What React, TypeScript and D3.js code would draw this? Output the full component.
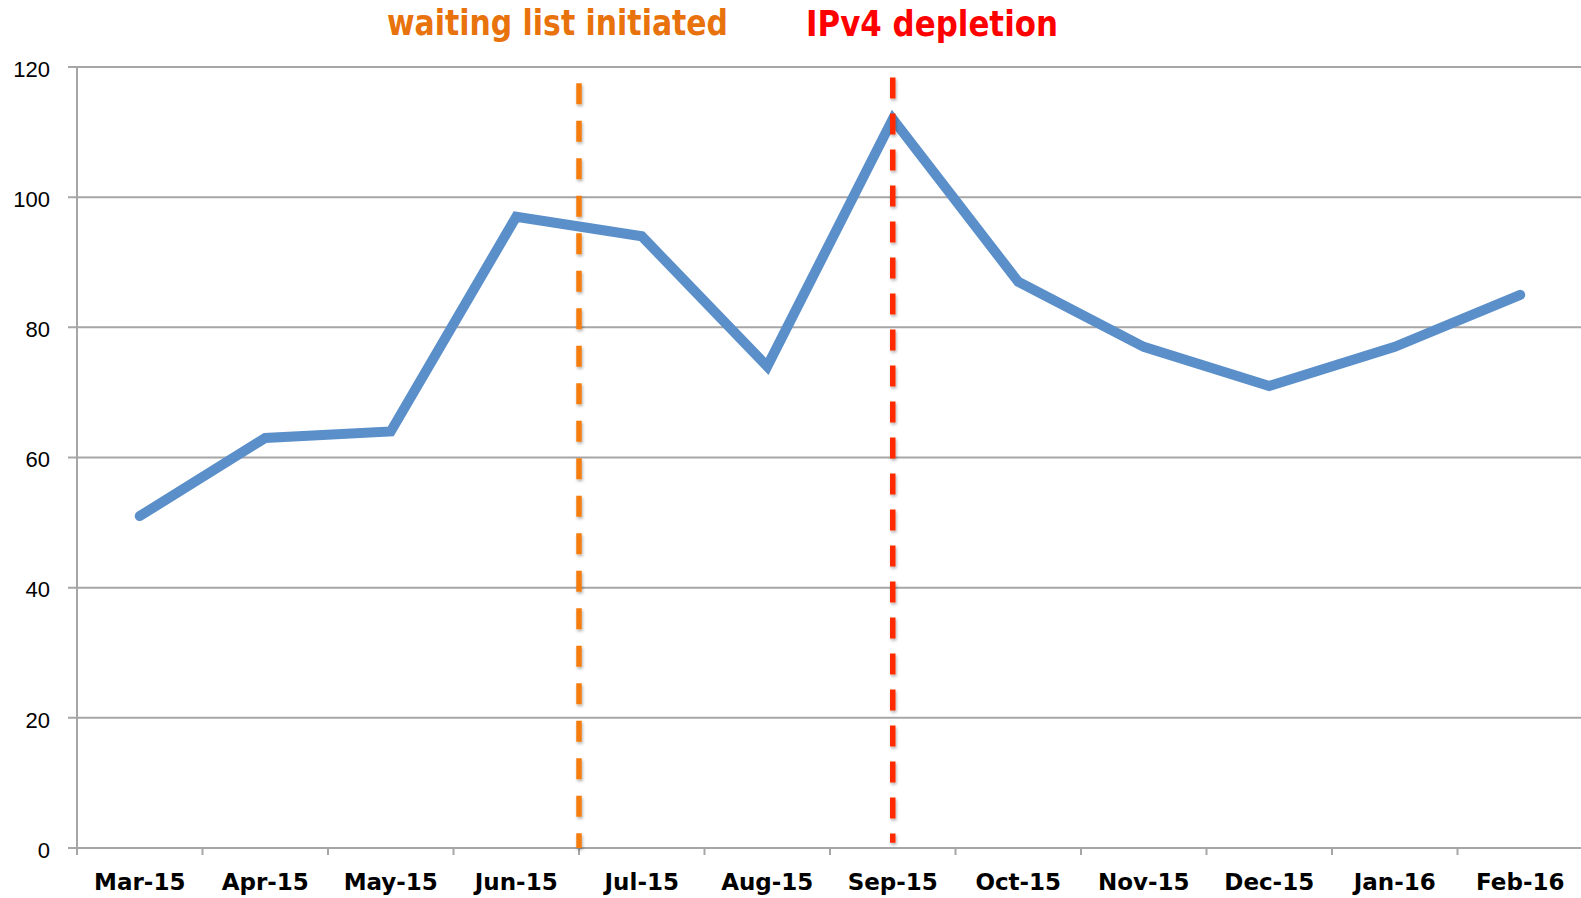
import * as d3 from "d3";
import { useEffect, useRef } from "react";

const months = ["Mar-15", "Apr-15", "May-15", "Jun-15", "Jul-15", "Aug-15", "Sep-15", "Oct-15", "Nov-15", "Dec-15", "Jan-16", "Feb-16"];
const counts = [51, 63, 64, 97, 94, 74, 112, 87, 77, 71, 77, 85];
const yTicks = [0, 20, 40, 60, 80, 100, 120];

const markerLabels = ["waiting list initiated", "IPv4 depletion"];
const markerColors = ["#f47d0c", "#ff2a00"];
const textColors = ["#e8720c", "#ff0000"];

const App = () => {
  const svgRef = useRef<SVGSVGElement>(null);

  useEffect(() => {
    const svg = d3.select(svgRef.current);
    svg.selectAll("*").remove();

    const margin = { top: 67, left: 77, bottom: 848, right: 1583 };

    const x = d3.scaleBand().domain(months).range([margin.left, margin.right]).padding(0);
    const y = d3.scaleLinear().domain([0, 120]).range([margin.bottom, margin.top]);

    // shadow for the dashed marker lines (user space, a vertical line has no bbox width)
    const defs = svg.append("defs");
    const f = defs.append("filter")
      .attr("id", "shadow")
      .attr("filterUnits", "userSpaceOnUse")
      .attr("x", 0).attr("y", 0).attr("width", 1581).attr("height", 898);
    f.append("feDropShadow")
      .attr("dx", 1).attr("dy", 2).attr("stdDeviation", 1.5)
      .attr("flood-color", "#000").attr("flood-opacity", 0.3);

    // gridlines + y labels
    svg.append("g")
      .selectAll("line")
      .data(yTicks)
      .enter()
      .append("line")
      .attr("x1", margin.left - 9)
      .attr("x2", 1581)
      .attr("y1", (d) => y(d))
      .attr("y2", (d) => y(d))
      .attr("stroke", "#a6a6a6")
      .attr("stroke-width", 2);

    svg.append("g")
      .selectAll("text")
      .data(yTicks)
      .enter()
      .append("text")
      .attr("x", 50)
      .attr("y", (d) => y(d) + 4)
      .attr("text-anchor", "end")
      .attr("dominant-baseline", "middle")
      .style("font-family", "'Liberation Sans', Arial, sans-serif")
      .style("font-size", "22px")
      .attr("fill", "#000")
      .text((d) => d);

    // y axis line
    svg.append("line")
      .attr("x1", margin.left)
      .attr("x2", margin.left)
      .attr("y1", margin.top)
      .attr("y2", margin.bottom + 7)
      .attr("stroke", "#a6a6a6")
      .attr("stroke-width", 2);

    // x ticks
    const tickPos = months.map((m) => x(m)).concat([margin.right]);
    svg.append("g")
      .selectAll("line")
      .data(tickPos)
      .enter()
      .append("line")
      .attr("x1", (d) => d)
      .attr("x2", (d) => d)
      .attr("y1", margin.bottom)
      .attr("y2", margin.bottom + 7)
      .attr("stroke", "#a6a6a6")
      .attr("stroke-width", 2);

    svg.append("g")
      .selectAll("text")
      .data(months)
      .enter()
      .append("text")
      .attr("x", (d) => x(d) + x.bandwidth() / 2)
      .attr("y", 890)
      .attr("text-anchor", "middle")
      .style("font-family", "'DejaVu Sans', sans-serif")
      .style("font-weight", "bold")
      .style("font-size", "23px")
      .attr("fill", "#000")
      .text((d) => d);

    // main line
    const line = d3.line<number>()
      .x((d, i) => x(months[i]) + x.bandwidth() / 2)
      .y((d) => y(d));
    svg.append("path")
      .datum(counts)
      .attr("d", line)
      .attr("fill", "none")
      .attr("stroke", "#5a8fca")
      .attr("stroke-width", 10)
      .attr("stroke-linecap", "round")
      .attr("stroke-linejoin", "miter");

    // marker lines
    const markers = [
      { x: x("Jul-15"), top: y(117.5), bottom: y(0), dash: "21 16.5" },
      { x: x("Sep-15") + x.bandwidth() / 2, top: y(118.4), bottom: y(0.8), dash: "21 15" },
    ];
    svg.append("g")
      .attr("filter", "url(#shadow)")
      .selectAll("line")
      .data(markers)
      .enter()
      .append("line")
      .attr("x1", (d) => d.x)
      .attr("x2", (d) => d.x)
      .attr("y1", (d) => d.top)
      .attr("y2", (d) => d.bottom)
      .attr("stroke", (d, i) => markerColors[i])
      .attr("stroke-width", 5.5)
      .attr("stroke-dasharray", (d) => d.dash);

    // annotation text
    const labelPos = [
      { x: 387, y: 35, w: 341 },
      { x: 806, y: 36, w: 252 },
    ];
    svg.append("g")
      .selectAll("text")
      .data(markerLabels)
      .enter()
      .append("text")
      .attr("x", (d, i) => labelPos[i].x)
      .attr("y", (d, i) => labelPos[i].y)
      .attr("textLength", (d, i) => labelPos[i].w)
      .attr("lengthAdjust", "spacingAndGlyphs")
      .style("font-family", "'DejaVu Sans', sans-serif")
      .style("font-weight", "bold")
      .style("font-size", "35px")
      .attr("fill", (d, i) => textColors[i])
      .text((d) => d);
  }, []);

  return (
    <svg
      ref={svgRef}
      width={1581}
      height={898}
      style={{ position: "absolute", left: 0, top: 0, background: "#fff" }}
    />
  );
};

export default App;
